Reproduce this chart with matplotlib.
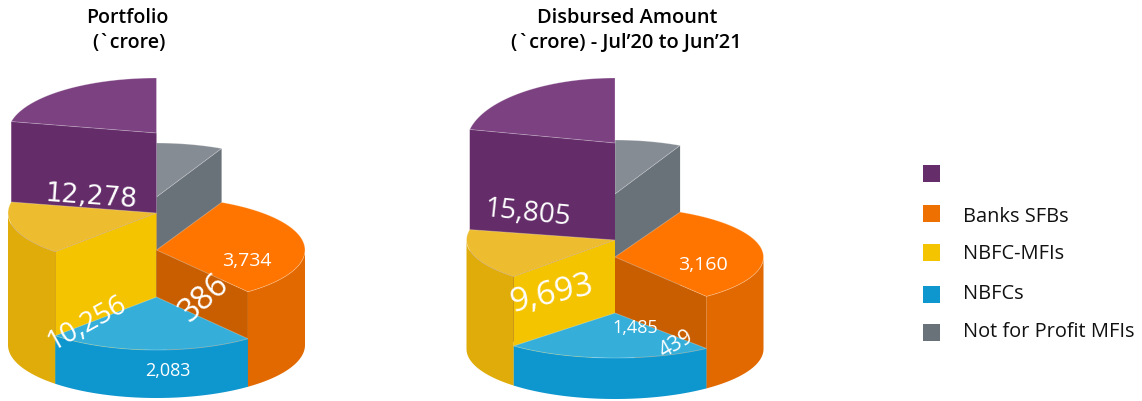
import numpy as np
import matplotlib
matplotlib.use('Agg')
import matplotlib.pyplot as plt
from matplotlib.patches import Rectangle

# slices run clockwise from 12 o'clock
categories = ['Not for Profit MFIs', 'Banks SFBs', 'NBFCs', 'NBFC-MFIs', '']
portfolio_values = ['386', '3,734', '2,083', '10,256', '12,278']
disbursed_values = ['439', '3,160', '1,485', '9,693', '15,805']

# the drawing is not to scale, so these are read off the picture
portfolio_spans = [26, 116, 81, 59, 78]
disbursed_spans = [26, 116, 81, 59, 78]
portfolio_heights = [148, 95, 48, 132, 212]
disbursed_heights = [155, 92, 36, 109, 206]
portfolio_top_ry = [54, 53, 53, 53, 55]
disbursed_top_ry = [54, 50, 45, 50, 65]

legend_order = ['', 'Banks SFBs', 'NBFC-MFIs', 'NBFCs', 'Not for Profit MFIs']

top_colors = {'Not for Profit MFIs': '#858c93', 'Banks SFBs': '#ff7500', 'NBFCs': '#35afd9',
              'NBFC-MFIs': '#edbd2f', '': '#7b4180'}
side_colors = {'Not for Profit MFIs': '#697279', 'Banks SFBs': '#c95e00', 'NBFCs': '#0e96ce',
               'NBFC-MFIs': '#f5c400', '': '#642d6a'}
rim_colors = {'Not for Profit MFIs': '#697279', 'Banks SFBs': '#e26900', 'NBFCs': '#0e96ce',
              'NBFC-MFIs': '#e0ac0a', '': '#642d6a'}
legend_colors = {'Not for Profit MFIs': '#697279', 'Banks SFBs': '#ed7000', 'NBFCs': '#0e96ce',
                 'NBFC-MFIs': '#f5c400', '': '#662d6b'}

RX = 148.5


def rim(cx, cy, ry, a0, a1):
    """points on an ellipse, angle in degrees clockwise from the top"""
    t = np.radians(np.linspace(a0, a1, 60))
    return cx + RX * np.sin(t), cy - ry * np.cos(t)


def draw_pie(ax, cx, base_y, base_ry, spans, heights, top_ry):
    edges = np.concatenate([[0], np.cumsum(spans)])
    # back slices first, blue one is in front of everything
    for i in [0, 4, 3, 1, 2]:
        name = categories[i]
        a0, a1 = edges[i], edges[i + 1]
        apex_y = base_y - heights[i]
        ry = top_ry[i]

        # outer wall, only the part facing the viewer
        f0, f1 = max(a0, 90), min(a1, 270)
        if f0 < f1:
            xt, yt = rim(cx, apex_y, ry, f0, f1)
            xb, yb = rim(cx, base_y, base_ry, f0, f1)
            ax.fill(np.r_[xt, xb[::-1]], np.r_[yt, yb[::-1]], color=rim_colors[name], lw=0)

        # cut face, only the one turned to the viewer
        cuts = [a for a in (a0,) if a > 180] + [a for a in (a1,) if a < 180]
        for a in cuts:
            xt, yt = rim(cx, apex_y, ry, a, a)
            xb, yb = rim(cx, base_y, base_ry, a, a)
            ax.fill([cx, xt[0], xb[0], cx], [apex_y, yt[0], yb[0], base_y],
                    color=side_colors[name], lw=0)

        xt, yt = rim(cx, apex_y, ry, a0, a1)
        ax.fill(np.r_[cx, xt], np.r_[apex_y, yt], facecolor=top_colors[name],
                edgecolor=(1, 1, 1, 0.3), lw=0.6)


def pie_label(ax, x, y, text, size, rotation=0, family='Open Sans'):
    ax.text(x, y, text, color='white', fontsize=size, rotation=rotation, family=family,
            ha='center', va='center', rotation_mode='anchor')


def main():
    fig = plt.figure(figsize=(11.42, 4.01), dpi=100)
    ax = fig.add_axes([0, 0, 1, 1])
    ax.set_xlim(0, 1142)
    ax.set_ylim(401, 0)
    ax.axis('off')

    draw_pie(ax, 156.5, 345, 53, portfolio_spans, portfolio_heights, portfolio_top_ry)
    draw_pie(ax, 615, 349, 50, disbursed_spans, disbursed_heights, disbursed_top_ry)

    # labels were placed by hand in the original
    pie_label(ax, 204, 298, portfolio_values[0], 23, 42)
    pie_label(ax, 247, 261, portfolio_values[1], 14)
    pie_label(ax, 168, 371, portfolio_values[2], 13)
    pie_label(ax, 87, 323, portfolio_values[3], 20, 29)
    pie_label(ax, 91, 197, portfolio_values[4], 19, -4, 'DejaVu Sans')

    pie_label(ax, 676, 344, disbursed_values[0], 15, 30)
    pie_label(ax, 703, 265, disbursed_values[1], 14)
    pie_label(ax, 635, 328, disbursed_values[2], 13)
    pie_label(ax, 552, 294, disbursed_values[3], 24, 13)
    pie_label(ax, 528, 214, disbursed_values[4], 20, -6)

    title_font = dict(family='Open Sans', fontweight='semibold', color='black',
                      ha='center', va='center')
    ax.text(127, 18, 'Portfolio', fontsize=14, **title_font)
    ax.text(129, 43, '(`crore)', fontsize=14, **title_font)
    ax.text(627, 18, 'Disbursed Amount', fontsize=14.4, **title_font)
    ax.text(626, 43, '(`crore) - Jul\u201920 to Jun\u201921', fontsize=14.4, **title_font)

    # legend is laid out by hand, gaps are uneven
    box_y = [165, 205, 244, 286, 324]
    text_y = [174, 217, 254, 294, 332]
    for name, y, ty in zip(legend_order, box_y, text_y):
        ax.add_patch(Rectangle((923, y), 16.5, 17, color=legend_colors[name], lw=0))
        ax.text(963, ty, name, family='Open Sans', fontsize=14.4, color='#111111',
                ha='left', va='center')

    plt.savefig('out.png', dpi=100)
    plt.close()


if __name__ == "__main__":
    main()
